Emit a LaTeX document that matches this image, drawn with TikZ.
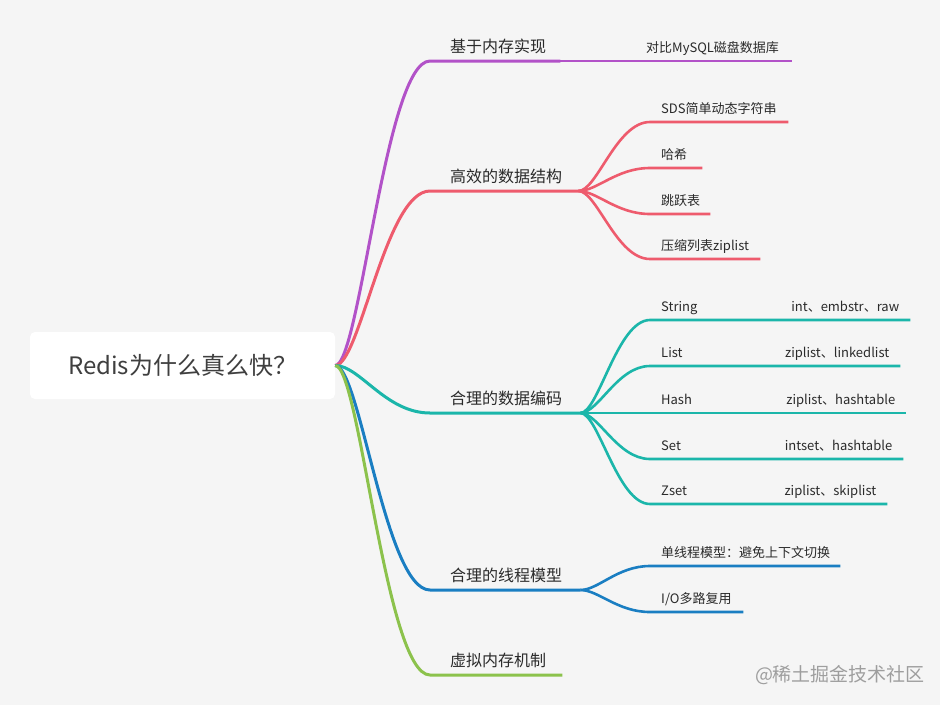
\documentclass[tikz,border=0pt]{standalone}
\usepackage{fontspec}
\setmainfont{Noto Sans CJK SC}
\usetikzlibrary{calc}
\definecolor{bgc}{HTML}{F5F5F5}
\definecolor{ink}{HTML}{2A2A2A}
\definecolor{cpur}{HTML}{B252C8}
\definecolor{cred}{HTML}{EE5B6D}
\definecolor{cteal}{HTML}{1BB6AA}
\definecolor{cblue}{HTML}{1A7EC2}
\definecolor{cgreen}{HTML}{8CC24C}
\newcommand\lvonefont{\fontsize{16}{19}\selectfont}
\newcommand\lvtwofont{\fontsize{13}{16}\selectfont}
\newcommand\rootfont{\fontsize{24}{28}\selectfont}
\begin{document}
\begin{tikzpicture}
  [
    x=1pt, y=-1pt,
    center/.style={fill=white, rounded corners=5pt, minimum width=305pt,
      minimum height=67pt, text=ink!90, font=\rootfont},
    topic/.style={anchor=south west, inner xsep=0pt, inner ysep=5pt,
      text depth=3pt, text width=#1, align=left, text=ink},
    lvone/.style={topic=#1, font=\lvonefont,
      execute at begin node={\hspace*{20pt}}},
    lvtwo/.style={topic=#1, font=\lvtwofont,
      execute at begin node={\hspace*{11pt}}},
    lvpair/.style={lvtwo=#1, execute at end node={\hspace*{11pt}}},
    lone/.style={line width=3pt},
    ltwo/.style={line width=2.6pt},
    branch/.style={to path={.. controls
      ($(\tikztostart)!0.26!(\tikztotarget|-\tikztostart)$) and
      ($(\tikztostart|-\tikztotarget)!0.53!(\tikztotarget)$) .. (\tikztotarget)}}
  ]
  \fill[bgc] (0,0) rectangle (940,705);
  \useasboundingbox (0,0) rectangle (940,705);

  \node (root) at (182.5,365.5) [center] {Redis为什么真么快？};

  \node (t1) at (430,61) [lvone=130pt] {基于内存实现};
  \node (t2) at (430,191) [lvone=148pt] {高效的数据结构};
  \node (t3) at (430,413) [lvone=150pt] {合理的数据编码};
  \node (t4) at (430,590) [lvone=150pt] {合理的线程模型};
  \node (t5) at (430,675) [lvone=132pt] {虚拟内存机制};

  \node (m1) at (635,61) [lvtwo=157pt] {对比MySQL磁盘数据库};

  \node (s1) at (650,122) [lvtwo=138pt] {SDS简单动态字符串};
  \node (s2) at (650,168) [lvtwo=52pt] {哈希};
  \node (s3) at (650,214) [lvtwo=60pt] {跳跃表};
  \node (s4) at (650,259) [lvtwo=110pt] {压缩列表ziplist};

  \node (e1) at (650,320) [lvpair=260pt] {String\hfill int、embstr、raw};
  \node (e2) at (650,366) [lvpair=250pt] {List\hfill ziplist、linkedlist};
  \node (e3) at (650,413) [lvpair=256pt] {Hash\hfill ziplist、hashtable};
  \node (e4) at (650,459) [lvpair=253pt] {Set\hfill intset、hashtable};
  \node (e5) at (650,504) [lvpair=237pt] {Zset\hfill ziplist、skiplist};

  \node (p1) at (650,566) [lvtwo=190pt] {单线程模型：避免上下文切换};
  \node (p2) at (650,612) [lvtwo=93pt] {I/O多路复用};

  \node (wm) at (840,675) [text=black!38, font=\fontsize{19}{22}\selectfont] {@稀土掘金技术社区};

  \draw [lone, cpur] (root.east) to[branch] (t1.south west) -- (t1.south east);
  \draw [lone, cred] (root.east) to[branch] (t2.south west) -- (t2.south east);
  \draw [lone, cteal] (root.east) to[branch] (t3.south west) -- (t3.south east);
  \draw [lone, cblue] (root.east) to[branch] (t4.south west) -- (t4.south east);
  \draw [lone, cgreen] (root.east) to[branch] (t5.south west) -- (t5.south east);

  \draw [ltwo, cpur] (t1.south east) to[branch] (m1.south west) -- (m1.south east);

  \draw [ltwo, cred] (t2.south east) to[branch] (s1.south west) -- (s1.south east);
  \draw [ltwo, cred] (t2.south east) to[branch] (s2.south west) -- (s2.south east);
  \draw [ltwo, cred] (t2.south east) to[branch] (s3.south west) -- (s3.south east);
  \draw [ltwo, cred] (t2.south east) to[branch] (s4.south west) -- (s4.south east);

  \draw [ltwo, cteal] (t3.south east) to[branch] (e1.south west) -- (e1.south east);
  \draw [ltwo, cteal] (t3.south east) to[branch] (e2.south west) -- (e2.south east);
  \draw [ltwo, cteal] (t3.south east) to[branch] (e3.south west) -- (e3.south east);
  \draw [ltwo, cteal] (t3.south east) to[branch] (e4.south west) -- (e4.south east);
  \draw [ltwo, cteal] (t3.south east) to[branch] (e5.south west) -- (e5.south east);

  \draw [ltwo, cblue] (t4.south east) to[branch] (p1.south west) -- (p1.south east);
  \draw [ltwo, cblue] (t4.south east) to[branch] (p2.south west) -- (p2.south east);
\end{tikzpicture}
\end{document}
